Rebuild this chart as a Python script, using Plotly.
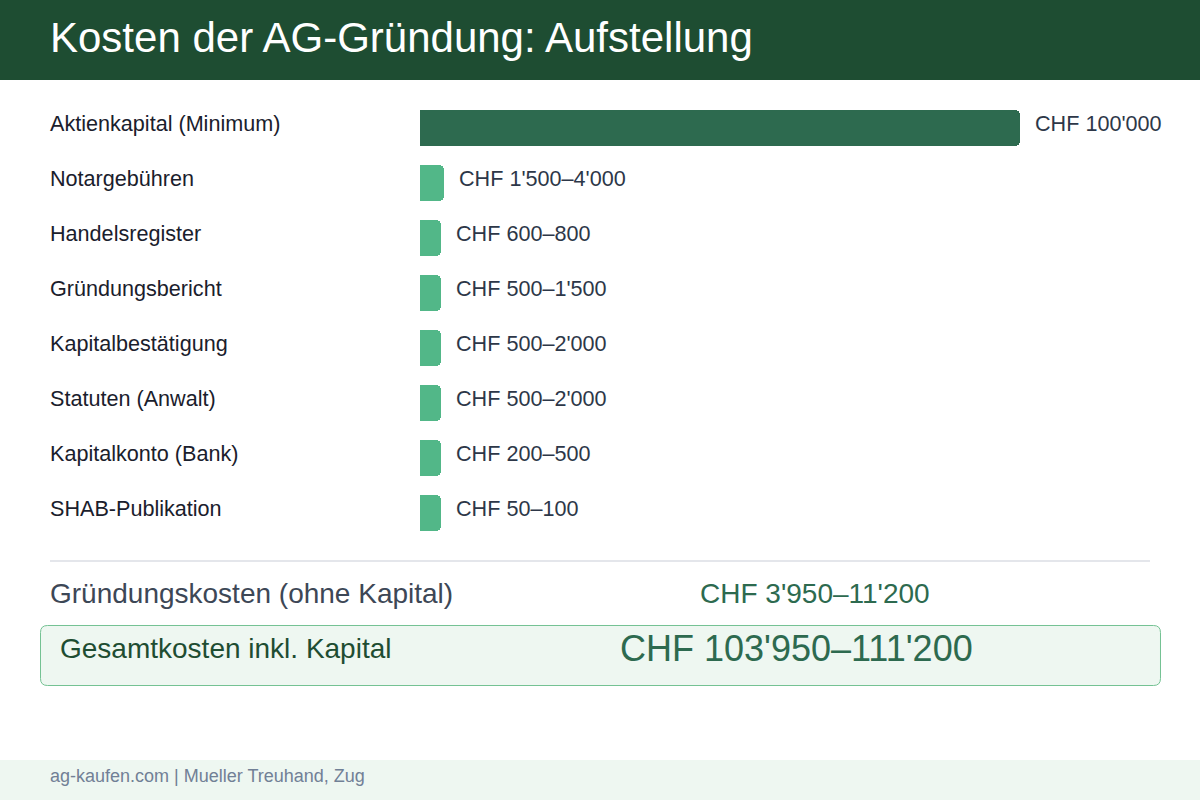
import plotly.graph_objects as go

# ---------------- data ----------------
categories = [
    "Aktienkapital (Minimum)",
    "Notargebühren",
    "Handelsregister",
    "Gründungsbericht",
    "Kapitalbestätigung",
    "Statuten (Anwalt)",
    "Kapitalkonto (Bank)",
    "SHAB-Publikation",
]
cost_low = [100000, 1500, 600, 500, 500, 500, 200, 50]
cost_high = [100000, 4000, 800, 1500, 2000, 2000, 500, 100]
bar_colors = ["#2d6a4f"] + ["#52b788"] * 7

founding_low, founding_high = 3950, 11200
total_low, total_high = 103950, 111200

title_text = "Kosten der AG-Gründung: Aufstellung"
founding_label = "Gründungskosten (ohne Kapital)"
total_label = "Gesamtkosten inkl. Kapital"
footer_text = "ag-kaufen.com | Mueller Treuhand, Zug"

MIN_BAR = 3500  # minimum displayed bar length so small items stay visible

FONT = "Liberation Sans, Arial, Helvetica, sans-serif"
W, H = 1200, 800


def chf(v):
    return f"{v:,}".replace(",", "'")


def rng(lo, hi):
    if lo == hi:
        return f"CHF {chf(lo)}"
    return f"CHF {chf(lo)}–{chf(hi)}"


display_len = [max(h, MIN_BAR) for h in cost_high]

fig = go.Figure()
fig.add_trace(go.Bar(
    y=categories,
    x=display_len,
    orientation="h",
    marker=dict(color=bar_colors, cornerradius=5, line=dict(width=0)),
    width=0.655,
    hoverinfo="skip",
))

annotations = []
for i, cat in enumerate(categories):
    annotations.append(dict(
        x=50 / W, xref="paper", y=cat, yref="y", text=cat,
        xanchor="left", yanchor="middle", xshift=-2, yshift=5, showarrow=False,
        font=dict(family=FONT, size=21.6, color="#1a202c"),
    ))
    annotations.append(dict(
        x=display_len[i], xref="x", y=cat, yref="y",
        text=rng(cost_low[i], cost_high[i]),
        xanchor="left", yanchor="middle", xshift=13, yshift=5, showarrow=False,
        font=dict(family=FONT, size=21.6, color="#2d3748"),
    ))


def py(px):
    return 1 - px / H


def pxx(px):
    return px / W


annotations += [
    dict(x=pxx(50), y=py(38), xref="paper", yref="paper", text=title_text,
         xanchor="left", yanchor="middle", xshift=-2, showarrow=False,
         font=dict(family=FONT, size=42, color="#ffffff")),
    dict(x=pxx(50), y=py(593), xref="paper", yref="paper", text=founding_label,
         xanchor="left", yanchor="middle", xshift=-2, showarrow=False,
         font=dict(family=FONT, size=28, color="#3d4756")),
    dict(x=pxx(700), y=py(593), xref="paper", yref="paper",
         text=rng(founding_low, founding_high),
         xanchor="left", yanchor="middle", xshift=-2, showarrow=False,
         font=dict(family=FONT, size=28, color="#2d6a4f")),
    dict(x=pxx(60), y=py(648), xref="paper", yref="paper", text=total_label,
         xanchor="left", yanchor="middle", xshift=-2, showarrow=False,
         font=dict(family=FONT, size=28, color="#1e4d32")),
    dict(x=pxx(620), y=py(648), xref="paper", yref="paper",
         text=rng(total_low, total_high),
         xanchor="left", yanchor="middle", xshift=-2, showarrow=False,
         font=dict(family=FONT, size=36, color="#2d6a4f")),
    dict(x=pxx(50), y=py(776), xref="paper", yref="paper", text=footer_text,
         xanchor="left", yanchor="middle", xshift=-2, showarrow=False,
         font=dict(family=FONT, size=18, color="#718096")),
]


def rounded_rect(x0, y0, x1, y1, r):
    # pixel coords (top-left origin) -> paper path
    def P(x, y):
        return f"{x / W:.5f},{1 - y / H:.5f}"
    return (f"M{P(x0 + r, y0)} L{P(x1 - r, y0)} Q{P(x1, y0)} {P(x1, y0 + r)} "
            f"L{P(x1, y1 - r)} Q{P(x1, y1)} {P(x1 - r, y1)} "
            f"L{P(x0 + r, y1)} Q{P(x0, y1)} {P(x0, y1 - r)} "
            f"L{P(x0, y0 + r)} Q{P(x0, y0)} {P(x0 + r, y0)} Z")


shapes = [
    dict(type="rect", xref="paper", yref="paper", x0=0, x1=1, y0=py(80), y1=1,
         fillcolor="#1e4d32", line=dict(width=0), layer="below"),
    dict(type="rect", xref="paper", yref="paper", x0=0, x1=1, y0=0, y1=py(760),
         fillcolor="#eef7f1", line=dict(width=0), layer="below"),
    dict(type="line", xref="paper", yref="paper", x0=pxx(50), x1=pxx(1150),
         y0=py(561), y1=py(561), line=dict(color="#e4e6eb", width=2)),
    dict(type="path", xref="paper", yref="paper",
         path=rounded_rect(40.5, 625.5, 1160.5, 685.5, 7),
         fillcolor="#eef7f1", line=dict(color="#74c293", width=1), layer="below"),
]

# x: 0 -> 420px, 100000 -> 1020px ; y: row i centre at 128 + 55*i px
x_per_px = 100000 / 600
x_range = [-420 * x_per_px, (W - 420) * x_per_px]
y_range = [(H - 128) / 55, -128 / 55]

fig.update_layout(
    width=W, height=H,
    margin=dict(l=0, r=0, t=0, b=0),
    paper_bgcolor="#ffffff", plot_bgcolor="rgba(0,0,0,0)",
    showlegend=False,
    xaxis=dict(visible=False, range=x_range, domain=[0, 1], fixedrange=True),
    yaxis=dict(visible=False, type="category", range=y_range, domain=[0, 1],
               fixedrange=True, categoryorder="array", categoryarray=categories),
    shapes=shapes,
    annotations=annotations,
    bargap=0,
)

fig.write_html(
    "out.html",
    config={"displayModeBar": False},
    post_script="document.body.style.margin='0';document.body.style.overflow='hidden';",
)
